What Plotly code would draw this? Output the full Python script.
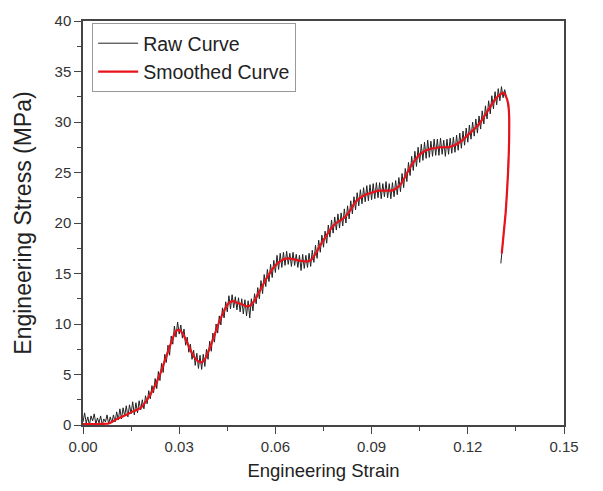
import plotly.graph_objects as go

# Smoothed curve (red)
smooth_strain = [0.000, 0.005, 0.008, 0.009, 0.010, 0.012, 0.014, 0.016, 0.018, 0.020,
                 0.022, 0.024, 0.026, 0.028, 0.029, 0.030, 0.031, 0.032, 0.033, 0.034,
                 0.035, 0.036, 0.037, 0.038, 0.039, 0.040, 0.041, 0.042, 0.043, 0.044,
                 0.045, 0.046, 0.047, 0.048, 0.049, 0.050, 0.051, 0.052, 0.053, 0.054,
                 0.055, 0.056, 0.057, 0.058, 0.059, 0.060, 0.061, 0.062, 0.063, 0.064,
                 0.065, 0.066, 0.067, 0.068, 0.069, 0.070, 0.071, 0.072, 0.073, 0.074,
                 0.075, 0.076, 0.077, 0.078, 0.079, 0.080, 0.081, 0.082, 0.083, 0.084,
                 0.085, 0.086, 0.087, 0.088, 0.089, 0.090, 0.091, 0.092, 0.093, 0.094,
                 0.095, 0.096, 0.097, 0.098, 0.099, 0.100, 0.101, 0.102, 0.103, 0.104,
                 0.105, 0.106, 0.107, 0.108, 0.109, 0.110, 0.111, 0.112, 0.113, 0.114,
                 0.115, 0.116, 0.117, 0.118, 0.119, 0.120, 0.121, 0.122, 0.123, 0.124,
                 0.125, 0.126, 0.127, 0.128, 0.129, 0.130, 0.131,
                 0.1318, 0.1326, 0.1329, 0.1329, 0.1327, 0.1323, 0.1318, 0.1312, 0.1306]
smooth_stress = [0.1, 0.1, 0.15, 0.3, 0.5, 0.8, 1.1, 1.4, 1.7, 2.5,
                 3.6, 5.0, 6.8, 8.6, 9.3, 9.4, 9.1, 8.5, 7.8, 7.1,
                 6.6, 6.3, 6.2, 6.5, 7.2, 8.0, 8.9, 9.8, 10.6, 11.3,
                 11.9, 12.2, 12.25, 12.1, 12.0, 11.9, 11.75, 11.8, 12.1, 12.6,
                 13.2, 13.8, 14.4, 14.9, 15.4, 15.8, 16.1, 16.3, 16.45, 16.5,
                 16.45, 16.4, 16.3, 16.25, 16.2, 16.2, 16.3, 16.7, 17.2, 17.8,
                 18.3, 18.8, 19.3, 19.7, 20.0, 20.2, 20.4, 20.7, 21.1, 21.6,
                 22.1, 22.4, 22.6, 22.8, 22.9, 23.0, 23.1, 23.2, 23.2, 23.2,
                 23.2, 23.2, 23.3, 23.5, 23.8, 24.3, 24.9, 25.5, 26.0, 26.4,
                 26.8, 27.0, 27.2, 27.3, 27.4, 27.4, 27.5, 27.5, 27.5, 27.5,
                 27.6, 27.7, 27.9, 28.1, 28.4, 28.7, 29.0, 29.3, 29.6, 30.0,
                 30.5, 31.0, 31.5, 32.0, 32.4, 32.7, 32.9,
                 32.6, 31.8, 30.5, 28.5, 26.0, 23.5, 21.0, 19.0, 17.0]

# Raw curve (noisy), sampled every 0.0005 strain
raw_strain = [
    0.0000, 0.0005, 0.0010, 0.0015, 0.0020, 0.0025, 0.0030, 0.0035, 0.0040, 0.0045,
    0.0050, 0.0055, 0.0060, 0.0065, 0.0070, 0.0075, 0.0080, 0.0085, 0.0090,
    0.0095, 0.0100, 0.0105, 0.0110, 0.0115, 0.0120, 0.0125, 0.0130, 0.0135, 0.0140,
    0.0145, 0.0150, 0.0155, 0.0160, 0.0165, 0.0170, 0.0175, 0.0180, 0.0185, 0.0190,
    0.0195, 0.0200,
    0.0205, 0.0210, 0.0215, 0.0220, 0.0225, 0.0230, 0.0235, 0.0240, 0.0245, 0.0250,
    0.0255, 0.0260, 0.0265, 0.0270, 0.0275, 0.0280, 0.0285, 0.0290, 0.0295, 0.0300,
    0.0305, 0.0310, 0.0315, 0.0320, 0.0325, 0.0330, 0.0335, 0.0340, 0.0345, 0.0350,
    0.0355, 0.0360, 0.0365, 0.0370, 0.0375, 0.0380, 0.0385, 0.0390, 0.0395, 0.0400,
    0.0405, 0.0410, 0.0415, 0.0420, 0.0425, 0.0430, 0.0435, 0.0440, 0.0445, 0.0450,
    0.0455, 0.0460, 0.0465, 0.0470, 0.0475, 0.0480, 0.0485, 0.0490, 0.0495, 0.0500,
    0.0505, 0.0510, 0.0515, 0.0520, 0.0525, 0.0530, 0.0535, 0.0540, 0.0545, 0.0550,
    0.0555, 0.0560, 0.0565, 0.0570, 0.0575, 0.0580, 0.0585, 0.0590, 0.0595, 0.0600,
    0.0605, 0.0610, 0.0615, 0.0620, 0.0625, 0.0630, 0.0635, 0.0640, 0.0645, 0.0650,
    0.0655, 0.0660, 0.0665, 0.0670, 0.0675, 0.0680, 0.0685, 0.0690, 0.0695, 0.0700,
    0.0705, 0.0710, 0.0715, 0.0720, 0.0725, 0.0730, 0.0735, 0.0740, 0.0745, 0.0750,
    0.0755, 0.0760, 0.0765, 0.0770, 0.0775, 0.0780, 0.0785, 0.0790, 0.0795, 0.0800,
    0.0805, 0.0810, 0.0815, 0.0820, 0.0825, 0.0830, 0.0835, 0.0840, 0.0845, 0.0850,
    0.0855, 0.0860, 0.0865, 0.0870, 0.0875, 0.0880, 0.0885, 0.0890, 0.0895, 0.0900,
    0.0905, 0.0910, 0.0915, 0.0920, 0.0925, 0.0930, 0.0935, 0.0940, 0.0945, 0.0950,
    0.0955, 0.0960, 0.0965, 0.0970, 0.0975, 0.0980, 0.0985, 0.0990, 0.0995, 0.1000,
    0.1005, 0.1010, 0.1015, 0.1020, 0.1025, 0.1030, 0.1035, 0.1040, 0.1045, 0.1050,
    0.1055, 0.1060, 0.1065, 0.1070, 0.1075, 0.1080, 0.1085, 0.1090, 0.1095, 0.1100,
    0.1105, 0.1110, 0.1115, 0.1120, 0.1125, 0.1130, 0.1135, 0.1140, 0.1145, 0.1150,
    0.1155, 0.1160, 0.1165, 0.1170, 0.1175, 0.1180, 0.1185, 0.1190, 0.1195, 0.1200,
    0.1205, 0.1210, 0.1215, 0.1220, 0.1225, 0.1230, 0.1235, 0.1240, 0.1245, 0.1250,
    0.1255, 0.1260, 0.1265, 0.1270, 0.1275, 0.1280, 0.1285, 0.1290, 0.1295, 0.1300,
    0.1305, 0.1310,
    0.1315, 0.1322, 0.1329, 0.1329, 0.1327, 0.1323, 0.1318, 0.1312, 0.1306, 0.1303]
raw_stress = [
    0.3, 1.2, 0.2, 0.8, 0.0, 0.9, 0.4, 1.1, 0.1, 0.7,
    0.2, 0.9, 0.0, 0.6, 0.3, 1.0, 0.1, 0.8, 0.2,
    1.0, 0.3, 1.3, 0.5, 1.6, 0.6, 1.7, 0.9, 1.9, 0.8,
    2.0, 1.1, 2.3, 1.0, 2.2, 1.2, 2.4, 1.5, 2.5, 1.6,
    2.9, 2.1,
    3.4, 2.6, 3.9, 3.2, 4.6, 3.6, 5.3, 4.4, 6.1, 5.2,
    7.0, 6.2, 7.9, 6.9, 8.8, 8.0, 9.8, 8.7, 10.2, 9.0,
    9.9, 8.6, 9.5, 7.9, 8.7, 7.2, 8.0, 6.5, 7.4, 5.9,
    7.1, 5.6, 6.9, 5.5, 7.0, 5.8, 7.5, 6.5, 8.3, 7.3,
    9.1, 8.2, 10.0, 9.1, 10.8, 9.9, 11.6, 10.6, 12.2, 11.2,
    12.8, 11.5, 12.9, 11.6, 12.7, 11.4, 12.6, 11.2, 12.5, 11.0,
    12.4, 10.8, 12.3, 10.6, 12.5, 11.3, 13.0, 12.0, 13.6, 12.5,
    14.3, 13.0, 14.9, 13.7, 15.4, 14.2, 15.9, 14.6, 16.3, 15.1,
    16.8, 15.4, 17.0, 15.6, 17.1, 15.8, 17.2, 15.9, 17.0, 15.7,
    17.1, 15.8, 16.9, 15.6, 16.8, 15.3, 16.9, 15.5, 16.8, 15.6,
    17.0, 15.7, 17.3, 16.1, 17.8, 16.5, 18.3, 17.1, 18.8, 17.6,
    19.2, 18.0, 19.8, 18.6, 20.3, 19.0, 20.6, 19.3, 20.9, 19.5,
    21.0, 19.7, 21.4, 20.0, 21.7, 20.4, 22.2, 20.9, 22.6, 21.3,
    23.0, 21.7, 23.3, 21.9, 23.5, 22.1, 23.7, 22.2, 23.8, 22.3,
    23.9, 22.4, 24.0, 22.5, 24.0, 22.4, 23.9, 22.6, 24.1, 22.5,
    23.9, 22.4, 24.0, 22.6, 24.2, 22.8, 24.5, 23.1, 24.9, 23.5,
    25.4, 24.1, 26.0, 24.7, 26.6, 25.2, 27.1, 25.6, 27.5, 26.0,
    27.8, 26.2, 28.0, 26.4, 28.2, 26.5, 28.1, 26.6, 28.3, 26.7,
    28.3, 26.7, 28.4, 26.8, 28.2, 26.6, 28.3, 26.8, 28.4, 26.9,
    28.5, 27.0, 28.7, 27.2, 28.9, 27.4, 29.1, 27.7, 29.4, 28.0,
    29.7, 28.3, 30.0, 28.6, 30.3, 28.9, 30.6, 29.3, 31.1, 29.8,
    31.6, 30.3, 32.1, 30.8, 32.6, 31.3, 33.0, 31.7, 33.3, 32.1,
    33.5, 32.4,
    33.2, 32.3, 31.0, 28.4, 26.0, 23.4, 21.0, 19.0, 17.0, 16.0]

x_ticks = [0.00, 0.03, 0.06, 0.09, 0.12, 0.15]
x_tick_labels = ["0.00", "0.03", "0.06", "0.09", "0.12", "0.15"]
y_ticks = [0, 5, 10, 15, 20, 25, 30, 35, 40]

font_family = "Liberation Sans, Arial, sans-serif"

fig = go.Figure()
fig.add_trace(go.Scatter(x=raw_strain, y=raw_stress, mode="lines", name="Raw Curve",
                         line=dict(color="#222222", width=1)))
fig.add_trace(go.Scatter(x=smooth_strain, y=smooth_stress, mode="lines", name="Smoothed Curve",
                         line=dict(color="#e8121b", width=2.2, shape="spline", smoothing=0.6)))

fig.update_layout(
    width=603, height=491,
    margin=dict(l=83, r=39, t=17, b=66),
    paper_bgcolor="white", plot_bgcolor="white",
    font=dict(family=font_family, color="#333333", size=15),
    showlegend=True,
    legend=dict(x=0.019, y=0.995, xanchor="left", yanchor="top",
                bgcolor="white", bordercolor="#999999", borderwidth=1,
                font=dict(size=19.5, color="#222222"),
                tracegroupgap=0, itemwidth=40),
    xaxis=dict(range=[0, 0.15], tickvals=x_ticks, ticktext=x_tick_labels,
               showgrid=False, zeroline=False,
               showline=True, linecolor="#444444", linewidth=1.5, mirror=True,
               ticks="outside", ticklen=7, tickwidth=1.2, tickcolor="#444444",
               minor=dict(ticks="outside", ticklen=4, dtick=0.015, tick0=0,
                          tickcolor="#444444", tickwidth=1.2, showgrid=False),
               tickfont=dict(size=15, color="#333333"),
               title=dict(text="Engineering Strain", font=dict(size=18.5, color="#222222"),
                          standoff=10)),
    yaxis=dict(range=[0, 40], tickvals=y_ticks,
               showgrid=False, zeroline=False,
               showline=True, linecolor="#444444", linewidth=1.5, mirror=True,
               ticks="outside", ticklen=7, tickwidth=1.2, tickcolor="#444444",
               minor=dict(ticks="outside", ticklen=4, dtick=2.5, tick0=0,
                          tickcolor="#444444", tickwidth=1.2, showgrid=False),
               tickfont=dict(size=15, color="#333333"),
               title=dict(text="Engineering Stress (MPa)", font=dict(size=23, color="#222222"),
                          standoff=17)),
)

fig.write_html("out.html")
